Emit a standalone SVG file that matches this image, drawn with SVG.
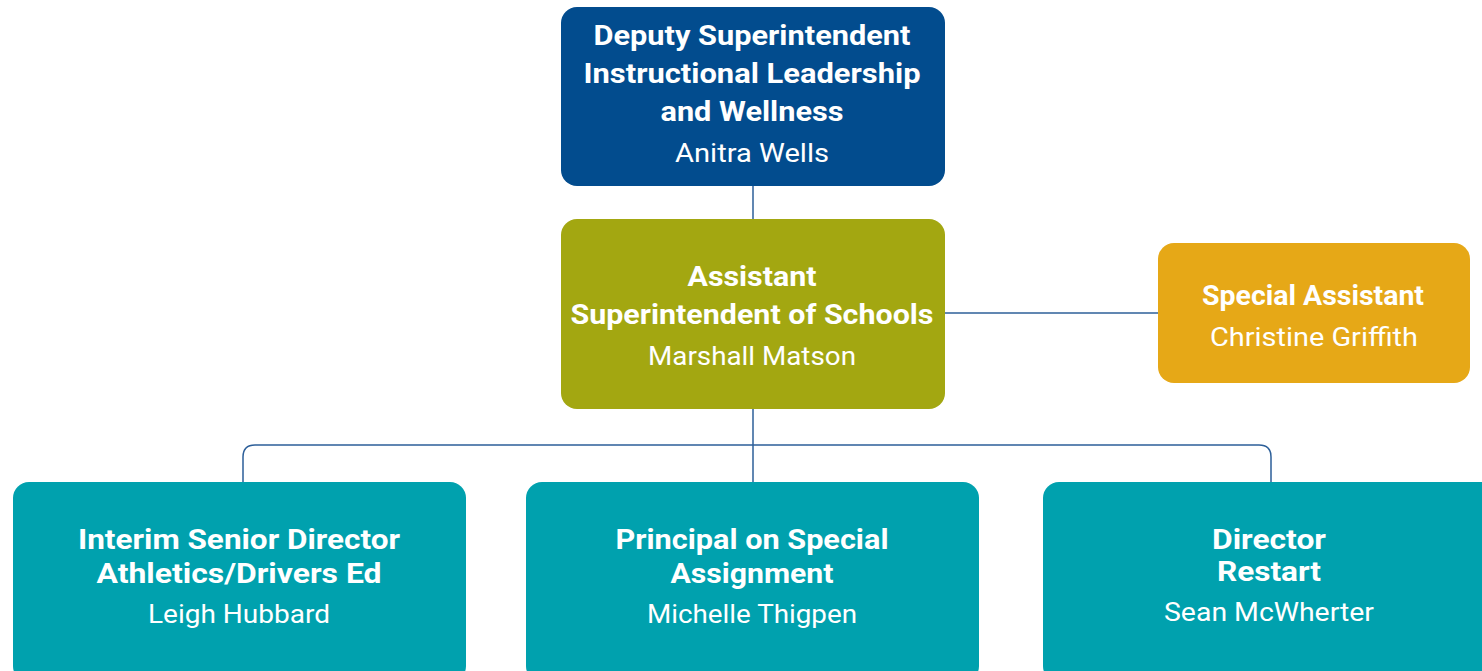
<svg xmlns="http://www.w3.org/2000/svg" width="1482" height="671" viewBox="0 0 1482 671">
<style>
.t{font-family:Roboto,"Liberation Sans",sans-serif;font-weight:bold;font-size:28px;fill:#fff;text-anchor:middle}
.n{font-family:Roboto,"Liberation Sans",sans-serif;font-size:26px;fill:#fff;text-anchor:middle}
.c{fill:none;stroke:#2d5f99;stroke-width:1.5}
</style>
<rect width="1482" height="671" fill="#fff"/>
<g id="connectors">
<path class="c" d="M753 186V219"/>
<path class="c" d="M753 409V482"/>
<path class="c" d="M945 313H1158"/>
<path class="c" d="M243 482V457Q243 445 255 445H1259Q1271 445 1271 457V482"/>
</g>
<g id="deputy">
<rect x="561" y="7" width="384" height="179" rx="16" fill="#024c8e"/>
<text class="t" x="752" y="45" textLength="317" lengthAdjust="spacingAndGlyphs">Deputy Superintendent</text>
<text class="t" x="752" y="83" textLength="337" lengthAdjust="spacingAndGlyphs">Instructional Leadership</text>
<text class="t" x="752" y="121" textLength="183" lengthAdjust="spacingAndGlyphs">and Wellness</text>
<text class="n" x="752" y="162" textLength="154" lengthAdjust="spacingAndGlyphs">Anitra Wells</text>
</g>
<g id="assistant">
<rect x="561" y="219" width="384" height="190" rx="16" fill="#a3a711"/>
<text class="t" x="752" y="286" textLength="129" lengthAdjust="spacingAndGlyphs">Assistant</text>
<text class="t" x="752" y="324" textLength="363" lengthAdjust="spacingAndGlyphs">Superintendent of Schools</text>
<text class="n" x="752" y="365" textLength="208" lengthAdjust="spacingAndGlyphs">Marshall Matson</text>
</g>
<g id="special">
<rect x="1158" y="243" width="312" height="140" rx="16" fill="#e6a817"/>
<text class="t" x="1313" y="305" textLength="222" lengthAdjust="spacingAndGlyphs">Special Assistant</text>
<text class="n" x="1314" y="346" textLength="208" lengthAdjust="spacingAndGlyphs">Christine Griffith</text>
</g>
<g id="athletics">
<rect x="13" y="482" width="453" height="200" rx="16" fill="#00a1ae"/>
<text class="t" x="239" y="549" textLength="322" lengthAdjust="spacingAndGlyphs">Interim Senior Director</text>
<text class="t" x="239" y="583" textLength="285" lengthAdjust="spacingAndGlyphs">Athletics/Drivers Ed</text>
<text class="n" x="239" y="623" textLength="182" lengthAdjust="spacingAndGlyphs">Leigh Hubbard</text>
</g>
<g id="principal">
<rect x="526" y="482" width="453" height="200" rx="16" fill="#00a1ae"/>
<text class="t" x="752" y="549" textLength="273" lengthAdjust="spacingAndGlyphs">Principal on Special</text>
<text class="t" x="752" y="583" textLength="163" lengthAdjust="spacingAndGlyphs">Assignment</text>
<text class="n" x="752" y="623" textLength="210" lengthAdjust="spacingAndGlyphs">Michelle Thigpen</text>
</g>
<g id="restart">
<rect x="1043" y="482" width="453" height="200" rx="16" fill="#00a1ae"/>
<text class="t" x="1269" y="549" textLength="114" lengthAdjust="spacingAndGlyphs">Director</text>
<text class="t" x="1269" y="581" textLength="104" lengthAdjust="spacingAndGlyphs">Restart</text>
<text class="n" x="1269" y="621" textLength="210" lengthAdjust="spacingAndGlyphs">Sean McWherter</text>
</g>
</svg>
